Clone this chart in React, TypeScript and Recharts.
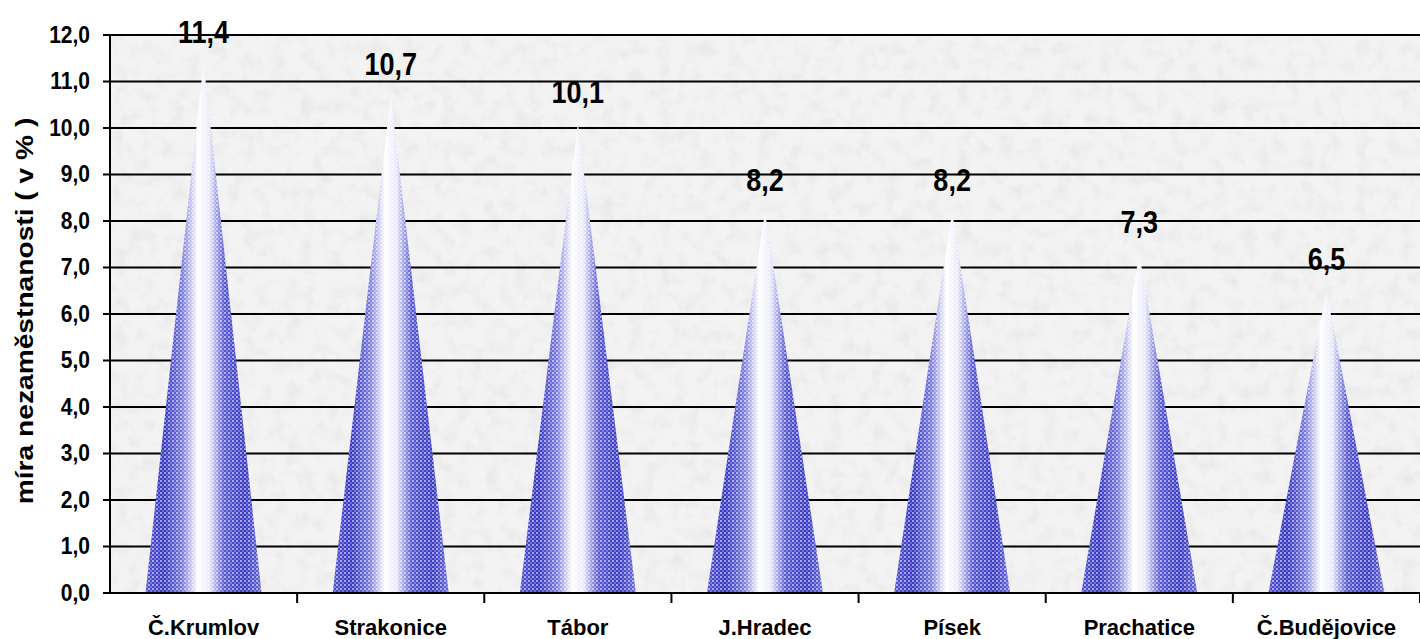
import React from "react";
import { BarChart, Bar, XAxis, YAxis, CartesianGrid, LabelList } from "recharts";

const districts = ["Č.Krumlov", "Strakonice", "Tábor", "J.Hradec", "Písek", "Prachatice", "Č.Budějovice"];
const unemployment = [11.4, 10.7, 10.1, 8.2, 8.2, 7.3, 6.5];
const yTicks = [0, 1, 2, 3, 4, 5, 6, 7, 8, 9, 10, 11, 12];

const data = districts.map((name, i) => ({ name, value: unemployment[i] }));

const FONT = "'Liberation Sans', Arial, sans-serif";
const fmt = (v: number) => v.toFixed(1).replace(".", ",");

// cone: triangle with a blue/white horizontal gradient and stipple dots
const Cone = (props: any) => {
  const { x, y, width, height } = props;
  if (!height || height <= 0) return null;
  const pts = `${x},${y + height} ${x + width / 2},${y} ${x + width},${y + height}`;
  return (
    <g>
      <polygon points={pts} fill="url(#coneGrad)" />
      <polygon points={pts} fill="url(#dots)" />
    </g>
  );
};

const XTick = (props: any) => {
  const { x, y, payload } = props;
  const half = payload.offset ?? 1310 / 14;
  return (
    <g>
      <line x1={x + half} x2={x + half} y1={y} y2={y + 10} stroke="#000" strokeWidth={2} />
      <text x={x} y={y + 42} textAnchor="middle" fontFamily={FONT} fontWeight="bold" fontSize={22} fill="#000">
        {payload.value}
      </text>
    </g>
  );
};

const YTick = (props: any) => {
  const { x, y, payload } = props;
  return (
    <text transform={`translate(${x},${y}) scale(1,1.14)`} textAnchor="end" dominantBaseline="central"
      fontFamily={FONT} fontWeight="bold" fontSize={21} fill="#000">
      {fmt(payload.value)}
    </text>
  );
};

const ValueLabel = (props: any) => {
  const { x, y, width, value } = props;
  return (
    <text transform={`translate(${x + width / 2},${y - 31}) scale(1,1.14)`} textAnchor="middle"
      dominantBaseline="central" fontFamily={FONT} fontWeight="bold" fontSize={27} fill="#000">
      {fmt(value)}
    </text>
  );
};

const YTitle = (props: any) => {
  const vb = props.viewBox || { y: 35, height: 558 };
  const cy = vb.y + vb.height / 2 - 3;
  return (
    <text transform={`translate(25,${cy}) scale(1,1.15) rotate(-90)`} textAnchor="middle"
      dominantBaseline="central" fontFamily={FONT} fontWeight="bold" fontSize={24.5} fill="#000">
      míra nezaměstnanosti ( v % )
    </text>
  );
};

export default function App() {
  return (
    <div style={{ position: "absolute", left: 0, top: 0, width: 1420, height: 639, background: "#fff" }}>
      <BarChart width={1420} height={639} data={data}
        margin={{ top: 35, right: 0, bottom: 0, left: 0 }} barCategoryGap="19%">
        <defs>
          <linearGradient id="coneGrad" x1="0" y1="0" x2="1" y2="0">
            <stop offset="0%" stopColor="#5252d4" />
            <stop offset="16%" stopColor="#3434c4" />
            <stop offset="32%" stopColor="#7a7ae0" />
            <stop offset="45%" stopColor="#ffffff" />
            <stop offset="55%" stopColor="#e8e8fb" />
            <stop offset="68%" stopColor="#5555d6" />
            <stop offset="86%" stopColor="#3838c6" />
            <stop offset="100%" stopColor="#6a6adc" />
          </linearGradient>
          <pattern id="dots" patternUnits="userSpaceOnUse" width="4" height="4">
            <circle cx="1" cy="1" r="1.1" fill="#ffffff" fillOpacity="0.6" />
            <circle cx="3" cy="3" r="0.9" fill="#ffffff" fillOpacity="0.4" />
          </pattern>
          <filter id="noise" x="0" y="0" width="100%" height="100%">
            <feTurbulence type="fractalNoise" baseFrequency="0.07" numOctaves="3" seed="3" />
            <feColorMatrix type="matrix"
              values="0 0 0 0 0.76  0 0 0 0 0.76  0 0 0 0 0.76  1.8 0 0 0 -0.78" />
          </filter>
          <pattern id="bg" patternUnits="userSpaceOnUse" width="1420" height="639">
            <rect width="1420" height="639" fill="#f3f3f3" />
            <rect width="1420" height="639" filter="url(#noise)" opacity="0.7" />
          </pattern>
        </defs>
        <CartesianGrid vertical={false} stroke="#000" strokeWidth={2} fill="url(#bg)" fillOpacity={1} />
        <XAxis dataKey="name" height={46} axisLine={{ stroke: "#000", strokeWidth: 2 }} tickLine={false}
          tickSize={0} tickMargin={0} tick={<XTick />} interval={0} />
        <YAxis width={110} domain={[0, 12]} ticks={yTicks} interval={0}
          axisLine={{ stroke: "#000", strokeWidth: 2 }} tickLine={{ stroke: "#000", strokeWidth: 2 }}
          tickSize={7} tickMargin={13} tick={<YTick />} label={<YTitle />} />
        <Bar dataKey="value" shape={<Cone />} isAnimationActive={false}>
          <LabelList dataKey="value" content={<ValueLabel />} />
        </Bar>
      </BarChart>
    </div>
  );
}
